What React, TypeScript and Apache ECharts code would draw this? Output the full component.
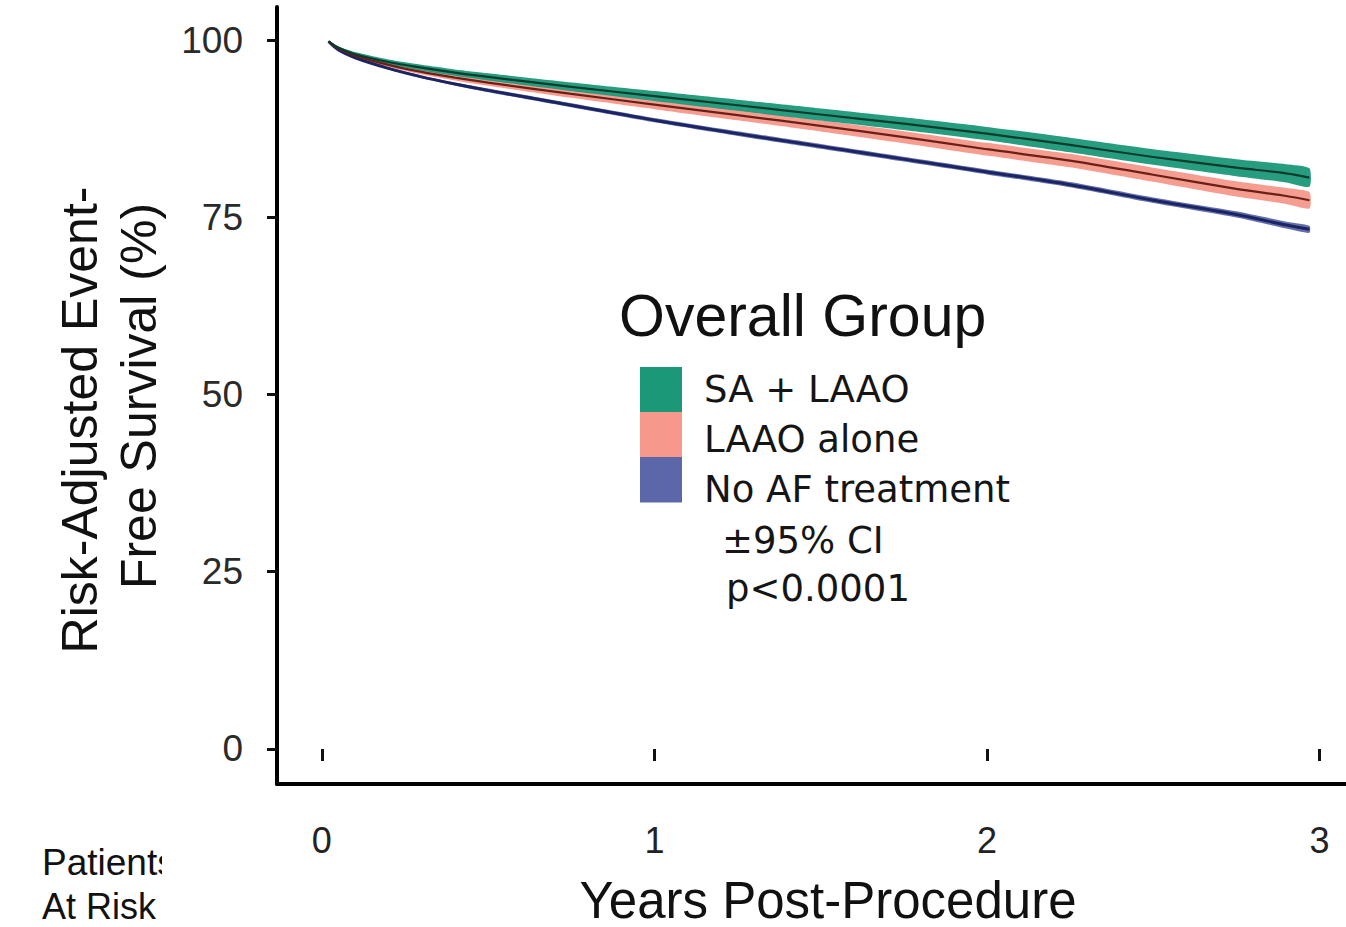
import React, { useEffect, useRef } from "react";
import * as echarts from "echarts";

// Follow-up time (years) at which the adjusted survival curves are sampled
const years = [0.02, 0.05, 0.1, 0.2, 0.3, 0.4, 0.5, 0.75, 1.0, 1.25, 1.5, 1.75, 2.0, 2.25, 2.5, 2.75, 2.9, 2.97];

// Risk-adjusted event-free survival (%) per group
const saLaao = [99.8, 98.9, 98.0, 96.9, 96.1, 95.4, 94.8, 93.4, 92.1, 90.8, 89.5, 88.2, 86.8, 85.2, 83.5, 82.0, 81.2, 80.6];
const laaoAlone = [99.8, 98.8, 97.8, 96.5, 95.5, 94.7, 94.0, 92.4, 90.9, 89.4, 87.9, 86.3, 84.6, 83.0, 81.0, 79.0, 78.0, 77.4];
const noAfTreatment = [99.8, 98.6, 97.5, 96.0, 94.8, 93.8, 92.9, 90.8, 88.7, 86.8, 85.0, 83.2, 81.4, 79.6, 77.4, 75.4, 73.9, 73.3];

// Half-width of the 95% confidence band (percentage points)
const saLaaoCi = [0.1, 0.2, 0.3, 0.35, 0.4, 0.45, 0.5, 0.6, 0.7, 0.78, 0.85, 0.9, 0.95, 1.02, 1.1, 1.2, 1.28, 1.3];
const laaoAloneCi = [0.1, 0.15, 0.25, 0.3, 0.35, 0.4, 0.45, 0.55, 0.65, 0.72, 0.8, 0.85, 0.9, 0.95, 1.0, 1.08, 1.12, 1.15];
const noAfTreatmentCi = [0.05, 0.1, 0.12, 0.15, 0.18, 0.2, 0.25, 0.28, 0.3, 0.32, 0.33, 0.34, 0.35, 0.38, 0.4, 0.44, 0.48, 0.5];

const groupNames = ["SA + LAAO", "LAAO alone", "No AF treatment"];
const legendNotes = ["±95% CI", "p<0.0001"];
const xTicks = [0, 1, 2, 3];
const yTicks = [0, 25, 50, 75, 100];

const SANS = "'Liberation Sans', Arial, Helvetica, sans-serif";
const KEY_FONT = "'DejaVu Sans', 'Open Sans', sans-serif";

const groups = [
  { name: groupNames[0], values: saLaao, ci: saLaaoCi, band: "#1b9878", line: "#0c3a2d" },
  { name: groupNames[1], values: laaoAlone, ci: laaoAloneCi, band: "#f6988b", line: "#6a2016" },
  { name: groupNames[2], values: noAfTreatment, ci: noAfTreatmentCi, band: "#5b67a8", line: "#1c2462" },
];

function buildSeries(): any[] {
  const bands: any[] = [];
  const lines: any[] = [];
  // Bottom curve's band first so the upper bands sit on top of it
  [...groups].reverse().forEach((g, k) => {
    const rows = years.map((x, i) => [x, g.values[i] - g.ci[i], g.values[i] + g.ci[i]]);
    bands.push({
      type: "custom",
      name: g.name,
      silent: true,
      itemStyle: { color: g.band },
      encode: { x: 0, y: [1, 2] },
      data: rows,
      clip: true,
      renderItem: (params: any, api: any) => {
        if (params.dataIndex !== 0) return null;
        const upper = rows.map((r) => api.coord([r[0], r[2]]));
        const lower = rows.map((r) => api.coord([r[0], r[1]])).reverse();
        return {
          type: "polygon",
          shape: { points: upper.concat(lower), smooth: 0.2 },
          style: { fill: g.band, opacity: 0.95 },
        };
      },
    });
    lines.push({
      type: "line",
      name: g.name + " estimate",
      silent: true,
      symbol: "none",
      smooth: 0.3,
      lineStyle: { color: g.line, width: k === 0 ? 3 : 2.2 },
      data: years.map((x, i) => [x, g.values[i]]),
    });
  });
  return [...bands, ...lines];
}

// Key: colour swatches stacked flush, labels to their right
function buildKey(): any[] {
  const items: any[] = [];
  groups.forEach((g, i) => {
    items.push({
      type: "rect",
      shape: { x: 640, y: 367 + i * 45, width: 42, height: 45.5 },
      style: { fill: g.band },
    });
    items.push({
      type: "text",
      x: 704,
      y: 389 + i * 50,
      style: {
        text: g.name,
        font: `37px ${KEY_FONT}`,
        fill: "#151515",
        align: "left",
        verticalAlign: "middle",
      },
    });
  });
  const noteX = [722, 726];
  const noteY = [540, 588];
  legendNotes.forEach((t, i) => {
    items.push({
      type: "text",
      x: noteX[i],
      y: noteY[i],
      style: {
        text: t,
        font: `37px ${KEY_FONT}`,
        fill: "#151515",
        align: "left",
        verticalAlign: "middle",
      },
    });
  });
  return items;
}

export default function App() {
  const ref = useRef<HTMLDivElement>(null);

  useEffect(() => {
    if (!ref.current) return;
    const chart = echarts.init(ref.current, null, { renderer: "svg" });
    chart.setOption({
      animation: false,
      backgroundColor: "#ffffff",
      grid: { left: 277, top: 7, width: 1069, height: 777 },
      xAxis: [
        {
          type: "value",
          min: -0.135,
          max: 3.08,
          axisLine: { show: true, onZero: false, lineStyle: { color: "#000", width: 4 } },
          axisTick: { show: false },
          axisLabel: { show: false },
          splitLine: { show: false },
        },
        {
          type: "value",
          position: "bottom",
          offset: 5,
          min: -0.135,
          max: 3.08,
          axisLine: { show: false },
          axisTick: {
            show: true,
            customValues: xTicks,
            length: 12,
            lineStyle: { color: "#111", width: 3 },
          },
          axisLabel: {
            show: true,
            customValues: xTicks,
            margin: 33,
            fontSize: 36,
            fontFamily: SANS,
            color: "#222",
          },
          splitLine: { show: false },
        },
      ],
      yAxis: {
        type: "value",
        min: -4.94,
        max: 104.66,
        axisLine: { show: true, onZero: false, lineStyle: { color: "#000", width: 4 } },
        axisTick: {
          show: true,
          customValues: yTicks,
          length: 10,
          lineStyle: { color: "#111", width: 3 },
        },
        axisLabel: {
          show: true,
          customValues: yTicks,
          margin: 34,
          fontSize: 37,
          fontFamily: SANS,
          color: "#2a2a2a",
        },
        splitLine: { show: false },
      },
      graphic: [
        {
          type: "text",
          x: 80,
          y: 420,
          rotation: Math.PI / 2,
          style: {
            text: "Risk-Adjusted Event-",
            font: `50px ${SANS}`,
            fill: "#111",
            align: "center",
            verticalAlign: "middle",
          },
        },
        {
          type: "text",
          x: 139,
          y: 396,
          rotation: Math.PI / 2,
          style: {
            text: "Free Survival (%)",
            font: `50px ${SANS}`,
            fill: "#111",
            align: "center",
            verticalAlign: "middle",
          },
        },
        {
          type: "text",
          x: 828,
          y: 900,
          style: {
            text: "Years Post-Procedure",
            font: `51px ${SANS}`,
            fill: "#111",
            align: "center",
            verticalAlign: "middle",
          },
        },
        {
          type: "text",
          x: 619,
          y: 316,
          style: {
            text: "Overall Group",
            font: `59px ${SANS}`,
            fill: "#111",
            align: "left",
            verticalAlign: "middle",
          },
        },
        ...buildKey(),
        {
          type: "text",
          x: 42,
          y: 862,
          style: {
            text: "Patients",
            font: `37px ${SANS}`,
            fill: "#111",
            align: "left",
            verticalAlign: "middle",
          },
        },
        {
          type: "rect",
          shape: { x: 162, y: 835, width: 60, height: 50 },
          style: { fill: "#ffffff" },
        },
        {
          type: "text",
          x: 42,
          y: 906,
          style: {
            text: "At Risk",
            font: `36px ${SANS}`,
            fill: "#111",
            align: "left",
            verticalAlign: "middle",
          },
        },
      ],
      series: buildSeries(),
    });
    return () => chart.dispose();
  }, []);

  return (
    <div
      ref={ref}
      style={{ position: "fixed", left: 0, top: 0, width: 1346, height: 927, background: "#fff" }}
    />
  );
}
